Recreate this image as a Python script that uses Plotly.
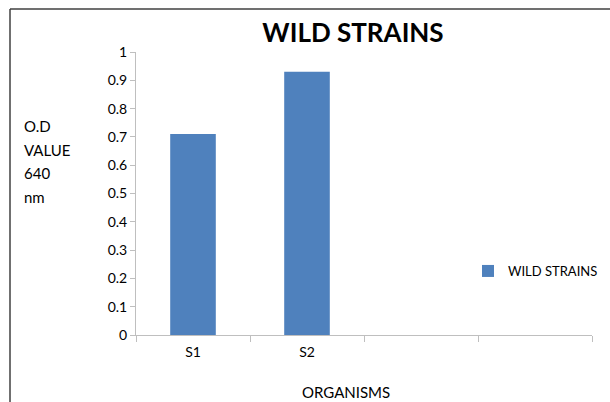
import plotly.graph_objects as go

categories = ["S1", "S2", " ", "  "]
bar_categories = ["S1", "S2"]
values = [0.71, 0.93]
series_name = "WILD STRAINS"
y_ticks = [0, 0.1, 0.2, 0.3, 0.4, 0.5, 0.6, 0.7, 0.8, 0.9, 1]
y_tick_labels = ["0", "0.1", "0.2", "0.3", "0.4", "0.5", "0.6", "0.7", "0.8", "0.9", "1"]
y_title_lines = ["O.D", "VALUE", "640", "nm"]
x_title = "ORGANISMS"

font_family = "Lato, Open Sans, Liberation Sans, Arial, sans-serif"

fig = go.Figure()
fig.add_trace(go.Bar(
    x=bar_categories, y=values, name=series_name,
    marker=dict(color="#4F81BD", line=dict(color="#4F81BD", width=0)),
    showlegend=True,
))

L, R, T, B = 136, 592, 52, 335
W, H = 610, 402
pw, ph = R - L, B - T

def px(x):
    return (x - L) / pw

def py(y):
    return (B - y) / ph

annotations = []
for i, line in enumerate(y_title_lines):
    annotations.append(dict(
        text=line, xref="paper", yref="paper",
        x=px(22), y=py(126 + i * 23.5), xanchor="left", yanchor="middle",
        align="left", showarrow=False,
        font=dict(size=15, family=font_family, color="#000000")))
annotations.append(dict(
    text=x_title, xref="paper", yref="paper",
    x=px(346), y=py(392), xanchor="center", yanchor="middle",
    showarrow=False,
    font=dict(size=15, family=font_family, color="#000000")))

fig.update_layout(
    width=W, height=H,
    margin=dict(l=L, r=W - R, t=T, b=H - B, autoexpand=False),
    paper_bgcolor="white", plot_bgcolor="white",
    bargap=0.6,
    font=dict(family=font_family, color="#000000", size=14),
    title=dict(text="<b>WILD STRAINS</b>", xref="container", x=353 / W,
               xanchor="center", yref="container", y=1 - 33 / H, yanchor="middle",
               font=dict(size=26, family=font_family, color="#000000")),
    xaxis=dict(type="category", categoryorder="array", categoryarray=categories,
               range=[-0.5, 3.5], tickson="boundaries", ticks="outside",
               ticklen=6, tickcolor="#BFBFBF", showline=True, linecolor="#BFBFBF",
               linewidth=1, showgrid=False, zeroline=False, ticklabelstandoff=4,
               tickfont=dict(size=14, family=font_family, color="#000000")),
    yaxis=dict(range=[0, 1], tickvals=y_ticks, ticktext=y_tick_labels,
               ticks="outside", ticklen=5, tickcolor="#BFBFBF",
               showline=True, linecolor="#BFBFBF", linewidth=1,
               showgrid=False, zeroline=False,
               tickfont=dict(size=14, family=font_family, color="#000000")),
    legend=dict(x=px(468), y=py(271), xanchor="left", yanchor="middle",
                bgcolor="rgba(0,0,0,0)", font=dict(size=13, family=font_family),
                itemwidth=30),
    shapes=[
        dict(type="line", xref="paper", yref="paper", x0=px(10), x1=px(10),
             y0=py(9), y1=py(410), line=dict(color="#404040", width=1.5)),
        dict(type="line", xref="paper", yref="paper", x0=px(10), x1=px(620),
             y0=py(9), y1=py(9), line=dict(color="#404040", width=1.5)),
    ],
    annotations=annotations,
)

fig.write_html("out.html",
               config={"displayModeBar": False, "responsive": False},
               post_script="document.body.style.margin='0';document.body.style.overflow='hidden';")
